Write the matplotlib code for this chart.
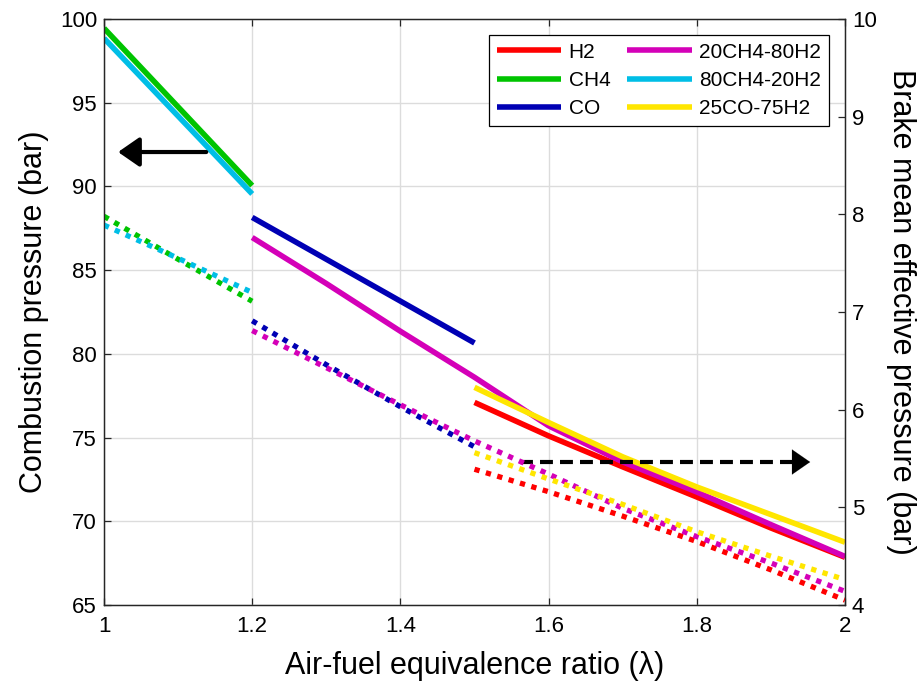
import matplotlib
matplotlib.use("Agg")
import matplotlib.pyplot as plt

plt.rcParams['font.family'] = ['Liberation Sans', 'DejaVu Sans']

# Air-fuel equivalence ratio grids for each fuel
lam_ch4 = [1.0, 1.1, 1.2]
lam_co = [1.2, 1.3, 1.4, 1.5]
lam_mix20 = [1.2, 1.3, 1.4, 1.5, 1.6, 1.7, 1.8, 1.9, 2.0]
lam_h2 = [1.5, 1.6, 1.7, 1.8, 1.9, 2.0]

# Combustion pressure (bar), left axis
h2_p = [77.1, 75.1, 73.25, 71.45, 69.6, 67.85]
ch4_p = [99.45, 94.75, 90.05]
co_p = [88.15, 85.65, 83.15, 80.65]
mix20_p = [86.95, 84.2, 81.35, 78.6, 75.7, 73.55, 71.75, 69.8, 67.9]
mix80_p = [98.85, 94.2, 89.55]
coh2_p = [78.0, 75.9, 73.85, 72.05, 70.4, 68.75]

# Brake mean effective pressure (bar), right axis
h2_b = [5.39, 5.16, 4.91, 4.65, 4.36, 4.05]
ch4_b = [7.98, 7.54, 7.11]
co_b = [6.91, 6.46, 6.03, 5.62]
mix20_b = [6.81, 6.43, 6.05, 5.68, 5.34, 4.99, 4.70, 4.43, 4.14]
mix80_b = [7.89, 7.55, 7.20]
coh2_b = [5.56, 5.29, 5.03, 4.75, 4.50, 4.26]

names = ['H2', 'CH4', 'CO', '20CH4-80H2', '80CH4-20H2', '25CO-75H2']
colors = ['#FF0000', '#00C400', '#0000B4', '#D400B8', '#00BEE6', '#FFE600']

series = [
    (lam_h2, h2_p, h2_b),
    (lam_ch4, ch4_p, ch4_b),
    (lam_co, co_p, co_b),
    (lam_mix20, mix20_p, mix20_b),
    (lam_ch4, mix80_p, mix80_b),
    (lam_h2, coh2_p, coh2_b),
]

W, H = 921, 691
fig = plt.figure(figsize=(W / 100, H / 100), dpi=100)
ax = fig.add_axes([104 / W, 1 - 605 / H, 741 / W, 586 / H])
ax2 = ax.twinx()

handles = []
for (lam, p, b), name, c in zip(series, names, colors):
    h, = ax.plot(lam, p, color=c, lw=4.0, solid_capstyle='butt', label=name)
    handles.append(h)
    ax2.plot(lam, b, color=c, lw=3.8, linestyle=(0, (1.0, 1.25)),
             dash_capstyle='butt')

ax.set_xlim(1, 2)
ax.set_ylim(65, 100)
ax2.set_ylim(4, 10)
ax.set_xticks([1, 1.2, 1.4, 1.6, 1.8, 2])
ax.set_xticklabels(['1', '1.2', '1.4', '1.6', '1.8', '2'])
ax.set_yticks(range(65, 101, 5))
ax2.set_yticks(range(4, 11))

ax.grid(True, color='#DCDCDC', lw=1.0)
ax.set_axisbelow(True)

for a in (ax, ax2):
    for s in a.spines.values():
        s.set_color('#262626')
        s.set_linewidth(0.9)
ax.tick_params(axis='both', direction='in', length=5, width=0.9,
               labelsize=16, colors='#262626', labelcolor='black', top=True)
ax.tick_params(axis='x', pad=8)
ax.tick_params(axis='y', pad=5)
ax2.tick_params(axis='y', direction='in', length=5, width=0.9,
                labelsize=16, colors='#262626', labelcolor='black', pad=5)

ax.set_xlabel('Air-fuel equivalence ratio (λ)', fontsize=22, labelpad=10)
ax.set_ylabel('Combustion pressure (bar)', fontsize=22, labelpad=8)
ax2.set_ylabel('Brake mean effective pressure (bar)', fontsize=22,
               rotation=270, labelpad=28)

# direction arrows pointing to the relevant axis
ax.annotate('', xy=(0.019, 0.773), xytext=(0.138, 0.773),
            xycoords='axes fraction', textcoords='axes fraction',
            arrowprops=dict(arrowstyle='-|>,head_length=0.65,head_width=0.45',
                            mutation_scale=20, lw=3.0, color='black',
                            shrinkA=0, shrinkB=0))
ax.plot([0.561, 0.935], [0.244, 0.244], transform=ax.transAxes,
        color='black', lw=3.0, linestyle=(0, (3.1, 1.7)), zorder=6)
ax.annotate('', xy=(0.953, 0.244), xytext=(0.925, 0.244),
            xycoords='axes fraction', textcoords='axes fraction',
            arrowprops=dict(arrowstyle='-|>,head_length=0.65,head_width=0.45',
                            mutation_scale=20, lw=0.1, color='black',
                            shrinkA=0, shrinkB=0), zorder=6)

leg = ax2.legend(handles, names, ncol=2, loc='upper right',
                 bbox_to_anchor=(0.978, 0.973), borderaxespad=0,
                 fontsize=15, handlelength=3.1, handletextpad=0.35,
                 labelspacing=0.45, columnspacing=0.8, borderpad=0.38,
                 fancybox=False, framealpha=1, edgecolor='black')
leg.get_frame().set_linewidth(0.9)

fig.savefig('out.png', dpi=100)
